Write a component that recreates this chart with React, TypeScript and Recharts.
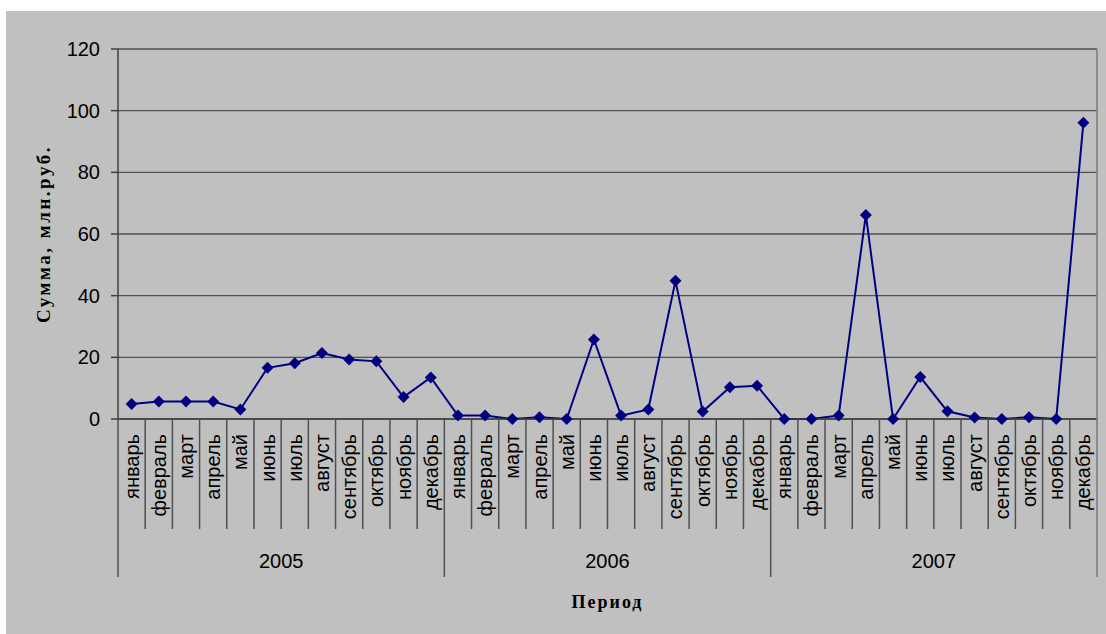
import React from 'react';
import { LineChart, Line, XAxis, YAxis, CartesianGrid } from 'recharts';

// Monthly amounts, million rubles
const months = ['январь', 'февраль', 'март', 'апрель', 'май', 'июнь', 'июль', 'август', 'сентябрь', 'октябрь', 'ноябрь', 'декабрь'];
const years = ['2005', '2006', '2007'];
const values2005 = [4.9, 5.7, 5.7, 5.7, 3.1, 16.6, 18.1, 21.4, 19.3, 18.7, 7.1, 13.5];
const values2006 = [1.1, 1.1, 0, 0.6, 0, 25.8, 1.1, 3.1, 44.8, 2.4, 10.3, 10.8];
const values2007 = [0, 0, 1.1, 66.2, 0, 13.6, 2.5, 0.5, 0, 0.6, 0, 96.1];
const yTicks = [0, 20, 40, 60, 80, 100, 120];

const series = [values2005, values2006, values2007];
const data = years.flatMap((yr, yi) =>
  months.map((m, mi) => ({ key: `${yr}-${mi}`, month: m, year: yr, value: series[yi][mi] }))
);

// Layout
const CHART_W = 1100;
const CHART_H = 623;
const TOP = 38;
const Y_AXIS_W = 112;
const X_AXIS_H = 215;
const PLOT_H = CHART_H - TOP - X_AXIS_H;
const PLOT_W = CHART_W - Y_AXIS_W - 9;

const BG = '#c0c0c0';
const INK = '#000000';
const NAVY = '#000080';
const SANS = '"Liberation Sans", Arial, sans-serif';
const SERIF = '"Liberation Serif", "Times New Roman", serif';
const SEP = '#505050';

const Diamond = (props: any) => {
  const { cx, cy } = props;
  if (cx == null || cy == null) return null;
  const r = 6;
  return (
    <polygon
      points={`${cx},${cy - r} ${cx + r},${cy} ${cx},${cy + r} ${cx - r},${cy}`}
      fill={NAVY}
    />
  );
};

// Month label plus the category separators and year grouping row
const MonthTick = (props: any) => {
  const { x, y, index, width, visibleTicksCount } = props;
  const count = visibleTicksCount || data.length;
  const band = (width || PLOT_W) / count;
  const row = data[index];
  if (!row) return null;
  const left = x - band / 2;
  const right = x + band / 2;
  const yearEnd = index % 12 === 11;
  const isLast = index === data.length - 1;
  return (
    <g>
      <text
        transform={`translate(${x},${y + 15}) rotate(-90)`}
        textAnchor="end"
        dominantBaseline="central"
        fontFamily={SANS}
        fontSize={20}
        fill={INK}
      >
        {row.month}
      </text>
      {index === 0 && (
        <line x1={left} y1={y} x2={left} y2={y + 158} stroke={SEP} strokeWidth={1.5} />
      )}
      <line
        x1={right}
        y1={isLast ? y - PLOT_H : y}
        x2={right}
        y2={y + (yearEnd ? 158 : 110)}
        stroke={isLast ? '#7a7a7a' : SEP}
        strokeWidth={1.5}
      />
      {index % 12 === 5 && (
        <text
          x={right}
          y={y + 142}
          textAnchor="middle"
          dominantBaseline="central"
          fontFamily={SANS}
          fontSize={20}
          fill={INK}
        >
          {row.year}
        </text>
      )}
    </g>
  );
};

const YLabel = (props: any) => {
  const vb = props.viewBox || { x: 0, y: TOP, width: Y_AXIS_W, height: PLOT_H };
  const cx = vb.x + 37;
  const cy = vb.y + vb.height / 2;
  return (
    <text
      transform={`translate(${cx},${cy}) rotate(-90)`}
      textAnchor="middle"
      dominantBaseline="central"
      fontFamily={SERIF}
      fontWeight="bold"
      fontSize={19}
      letterSpacing={2.5}
      fill={INK}
    >
      Сумма, млн.руб.
    </text>
  );
};

const XLabel = (props: any) => {
  const vb = props.viewBox || { x: Y_AXIS_W, y: TOP + PLOT_H, width: PLOT_W, height: X_AXIS_H };
  return (
    <text
      x={vb.x + vb.width / 2}
      y={vb.y + 183}
      textAnchor="middle"
      dominantBaseline="central"
      fontFamily={SERIF}
      fontWeight="bold"
      fontSize={18}
      letterSpacing={2}
      fill={INK}
    >
      Период
    </text>
  );
};

export default function App() {
  return (
    <div style={{ position: 'absolute', left: 0, top: 0, width: 1106, height: 634, background: '#ffffff' }}>
      <div style={{ position: 'absolute', left: 6, top: 11, width: CHART_W, height: CHART_H, background: BG }}>
        <LineChart
          width={CHART_W}
          height={CHART_H}
          data={data}
          margin={{ top: TOP, right: 9, bottom: 0, left: 0 }}
        >
          <CartesianGrid vertical={false} stroke="#505050" strokeWidth={1.3} />
          <XAxis
            dataKey="key"
            scale="band"
            interval={0}
            height={X_AXIS_H}
            tickSize={0}
            tickMargin={0}
            tickLine={false}
            axisLine={{ stroke: '#404040', strokeWidth: 1.5 }}
            tick={<MonthTick />}
            label={<XLabel />}
          />
          <YAxis
            width={Y_AXIS_W}
            domain={[0, 120]}
            ticks={yTicks}
            interval={0}
            tickSize={7}
            tickMargin={11}
            tickLine={{ stroke: '#404040', strokeWidth: 1.5 }}
            axisLine={{ stroke: '#404040', strokeWidth: 1.5 }}
            tick={{ fontFamily: SANS, fontSize: 20, fill: INK }}
            label={<YLabel />}
          />
          <Line
            type="linear"
            dataKey="value"
            stroke={NAVY}
            strokeWidth={2}
            dot={<Diamond />}
            activeDot={false}
            isAnimationActive={false}
          />
        </LineChart>
      </div>
    </div>
  );
}
